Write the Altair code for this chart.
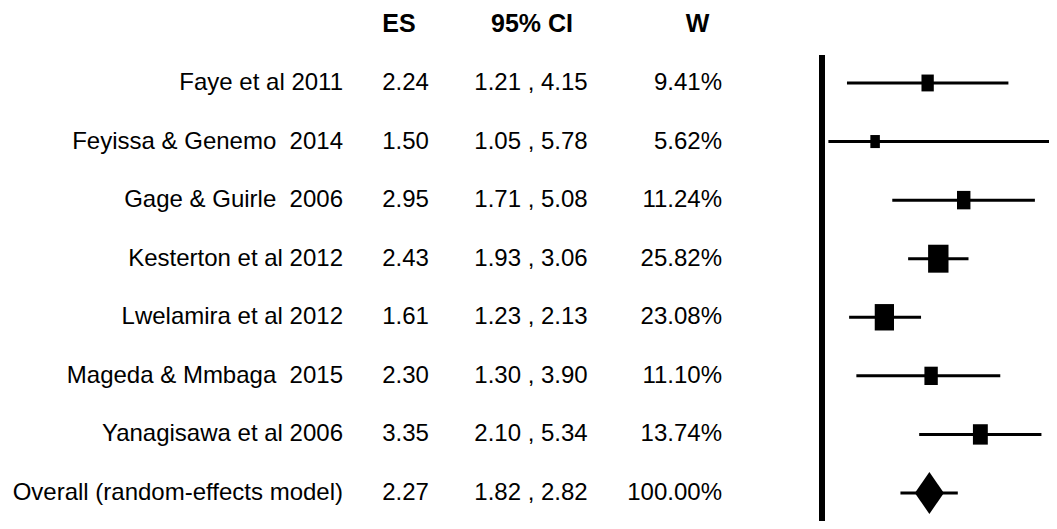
import altair as alt
import pandas as pd

# ---- data ----
studies = [
    "Faye et al 2011",
    "Feyissa & Genemo\u00a0 2014",
    "Gage & Guirle\u00a0 2006",
    "Kesterton et al 2012",
    "Lwelamira et al 2012",
    "Mageda & Mmbaga\u00a0 2015",
    "Yanagisawa et al 2006",
]
es = [2.24, 1.50, 2.95, 2.43, 1.61, 2.30, 3.35]
ci_low = [1.21, 1.05, 1.71, 1.93, 1.23, 1.30, 2.10]
ci_high = [4.15, 5.78, 5.08, 3.06, 2.13, 3.90, 5.34]
weights = [9.41, 5.62, 11.24, 25.82, 23.08, 11.10, 13.74]

overall_label = "Overall (random-effects model)"
overall_es = 2.27
overall_low = 1.82
overall_high = 2.82
overall_w = 100.00

headers = ["ES", "95% CI", "W"]

# ---- tables ----
labels = studies + [overall_label]
all_es = es + [overall_es]
all_lo = ci_low + [overall_low]
all_hi = ci_high + [overall_high]
all_w = weights + [overall_w]

df = pd.DataFrame({
    "row": list(range(len(labels))),
    "label": labels,
    "es": all_es,
    "lo": all_lo,
    "hi": all_hi,
    "w": all_w,
})
df["es_txt"] = df["es"].map(lambda v: f"{v:.2f}")
df["ci_txt"] = [f"{a:.2f} , {b:.2f}" for a, b in zip(df["lo"], df["hi"])]
df["w_txt"] = df["w"].map(lambda v: f"{v:.2f}%")

studies_df = df.iloc[:-1]
overall_df = df.iloc[-1:]
head_df = pd.DataFrame({"row": [-1] * 3, "h": headers})

FONT = "Liberation Sans, Arial, sans-serif"

yscale = alt.Scale(domain=[-1, 7], range=[16.4, 485])
xscale = alt.Scale(type="log", domain=[1, 6], range=[814, 1048.7])

Y = alt.Y("row:Q", scale=yscale, axis=None)
X = alt.X("es:Q", scale=xscale, axis=None)

base = alt.Chart(df)

null_line = alt.Chart(pd.DataFrame({"x": [1]})).mark_rule(
    color="black", strokeWidth=6
).encode(
    x=alt.X("x:Q", scale=xscale, axis=None),
    y=alt.value(47), y2=alt.value(530),
)

ci_rules = base.mark_rule(color="black", strokeWidth=3).encode(
    x=alt.X("lo:Q", scale=xscale, axis=None), x2="hi:Q", y=Y
)

squares = alt.Chart(studies_df).mark_point(
    shape="M-0.73,-1L0.73,-1L0.73,1L-0.73,1Z", filled=True, opacity=1,
    color="black", strokeWidth=0,
).encode(
    x=X, y=Y,
    size=alt.Size("w:Q", scale=alt.Scale(domain=[0, 100], range=[0, 3025]), legend=None),
)

diamond = alt.Chart(overall_df).mark_point(
    shape="M0,-1L0.69,0L0,1L-0.69,0Z", filled=True, opacity=1,
    color="black", strokeWidth=0, size=1764,
).encode(x=X, y=Y)

txt = dict(font=FONT, fontSize=24, color="black", baseline="middle")

lab = base.mark_text(align="right", **txt).encode(
    x=alt.value(335), y=Y, text="label:N")
es_t = base.mark_text(align="center", **txt).encode(
    x=alt.value(397.5), y=Y, text="es_txt:N")
ci_t = base.mark_text(align="center", **txt).encode(
    x=alt.value(523), y=Y, text="ci_txt:N")
w_t = base.mark_text(align="right", **txt).encode(
    x=alt.value(714), y=Y, text="w_txt:N")

htxt = dict(font=FONT, fontSize=25, fontWeight="bold", color="black",
            baseline="middle", align="center")
h_es = alt.Chart(head_df.iloc[[0]]).mark_text(**htxt).encode(
    x=alt.value(391), y=Y, text="h:N")
h_ci = alt.Chart(head_df.iloc[[1]]).mark_text(**htxt).encode(
    x=alt.value(524), y=Y, text="h:N")
h_w = alt.Chart(head_df.iloc[[2]]).mark_text(**htxt).encode(
    x=alt.value(689.5), y=Y, text="h:N")

chart = alt.layer(
    null_line, ci_rules, squares, diamond, lab, es_t, ci_t, w_t, h_es, h_ci, h_w
).properties(
    width=1041, height=513, padding=0, background="white",
    autosize=alt.AutoSizeParams(type="none"),
).configure_view(stroke=None)

chart.save("out.html", embed_options={"renderer": "svg", "actions": False})
